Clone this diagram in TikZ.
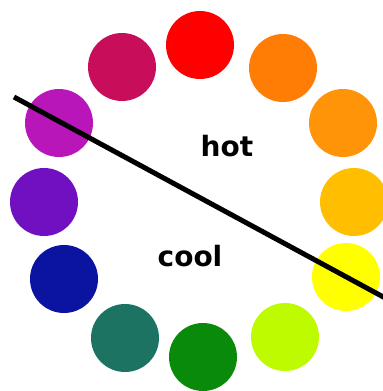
\documentclass[tikz,border=0pt]{standalone}
\usepackage{fontspec}
\setmainfont{DejaVu Sans}
\usepackage{xcolor}
\usetikzlibrary{math}
\definecolor{wred}{RGB}{255,0,0}
\definecolor{wcrimson}{RGB}{200,14,90}
\definecolor{worange}{RGB}{255,125,5}
\definecolor{wdarkorange}{RGB}{255,148,8}
\definecolor{wamber}{RGB}{255,190,0}
\definecolor{wyellow}{RGB}{255,255,0}
\definecolor{wlime}{RGB}{190,250,0}
\definecolor{wgreen}{RGB}{10,138,10}
\definecolor{wteal}{RGB}{28,115,98}
\definecolor{wblue}{RGB}{10,20,160}
\definecolor{wviolet}{RGB}{112,16,192}
\definecolor{wpurple}{RGB}{185,22,185}

\begin{document}
\begin{tikzpicture}[x=0.5pt,y=-0.5pt]
\tikzmath{
\r=34;
}
\useasboundingbox (0,0) rectangle (383,391);

% colour wheel
\foreach \name/\x/\y/\col in {red/200/45/wred, crimson/122/67/wcrimson,
  orange/283/68/worange, darkorange/343/123/wdarkorange,
  amber/354/202/wamber, yellow/346/277/wyellow, lime/285/337/wlime,
  green/203/357/wgreen, teal/125/338/wteal, blue/64/279/wblue,
  violet/44/202/wviolet, purple/59/123/wpurple}
  \node[circle, fill=\col, inner sep=0, minimum size=2*\r*0.5pt] (\name) at (\x,\y) {};

\node[font=\bfseries\fontsize{14}{16}\selectfont] (hot) at (227,146) {hot};
\node[font=\bfseries\fontsize{14}{16}\selectfont] (cool) at (190,256) {cool};

\coordinate (start) at (14,97);
\coordinate (end) at (400,306);
\draw[line width=2.5] (start) -- (end);
\end{tikzpicture}
\end{document}
